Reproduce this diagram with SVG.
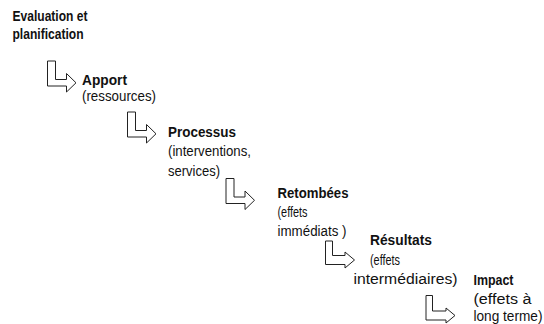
<svg xmlns="http://www.w3.org/2000/svg" width="544" height="324" viewBox="0 0 544 324">
<style>
text{font-family:"Liberation Sans",Arial,sans-serif;font-size:14px;fill:#111}
.b{font-weight:bold}
.arr{fill:#fff;stroke:#222;stroke-width:1;stroke-linejoin:miter}
</style>
<defs>
<path id="ar" d="M0,0 H8 V18.5 H19 V12.5 L28.5,21.8 L19,31 V25 H0 Z"/>
</defs>
<rect width="544" height="324" fill="#fff"/>
<g id="connectors">
<use href="#ar" class="arr" transform="translate(47.5,61)"/>
<use href="#ar" class="arr" transform="translate(127.5,112)"/>
<use href="#ar" class="arr" transform="translate(226,178.5)"/>
<path class="arr" d="M325.5,241 H332.5 V255.5 H345 V252 L354.5,260 L345,268 V264.5 H325.5 Z"/>
<path class="arr" d="M426,295.5 H432.5 V311 H446 V308 L455,315.5 L446,323 V320 H426 Z"/>
</g>
<g id="evaluation">
<text class="b" x="12.5" y="21" textLength="75" lengthAdjust="spacingAndGlyphs">Evaluation et</text>
<text class="b" x="12.5" y="39" textLength="71" lengthAdjust="spacingAndGlyphs">planification</text>
</g>
<g id="apport">
<text class="b" x="82" y="85" textLength="45" lengthAdjust="spacingAndGlyphs">Apport</text>
<text x="82" y="101" textLength="74" lengthAdjust="spacingAndGlyphs">(ressources)</text>
</g>
<g id="processus">
<text class="b" x="168" y="136.5" textLength="68" lengthAdjust="spacingAndGlyphs">Processus</text>
<text x="168" y="156" textLength="83" lengthAdjust="spacingAndGlyphs">(interventions,</text>
<text x="168" y="175.5" textLength="52" lengthAdjust="spacingAndGlyphs">services)</text>
</g>
<g id="retombees">
<text class="b" x="277.5" y="198" textLength="71" lengthAdjust="spacingAndGlyphs">Retombées</text>
<text x="277.5" y="216.5" textLength="30" lengthAdjust="spacingAndGlyphs">(effets</text>
<text x="277.5" y="235.5" textLength="69" lengthAdjust="spacingAndGlyphs">immédiats )</text>
</g>
<g id="resultats">
<text class="b" x="370" y="245" textLength="62" lengthAdjust="spacingAndGlyphs">Résultats</text>
<text x="370" y="264.5" textLength="30" lengthAdjust="spacingAndGlyphs">(effets</text>
<text x="353.5" y="283.5" textLength="104" lengthAdjust="spacingAndGlyphs">intermédiaires)</text>
</g>
<g id="impact">
<text class="b" x="473.5" y="285" textLength="40" lengthAdjust="spacingAndGlyphs">Impact</text>
<text x="473.5" y="303.5" textLength="58" lengthAdjust="spacingAndGlyphs">(effets à</text>
<text x="473.5" y="321" textLength="69" lengthAdjust="spacingAndGlyphs">long terme)</text>
</g>
</svg>
